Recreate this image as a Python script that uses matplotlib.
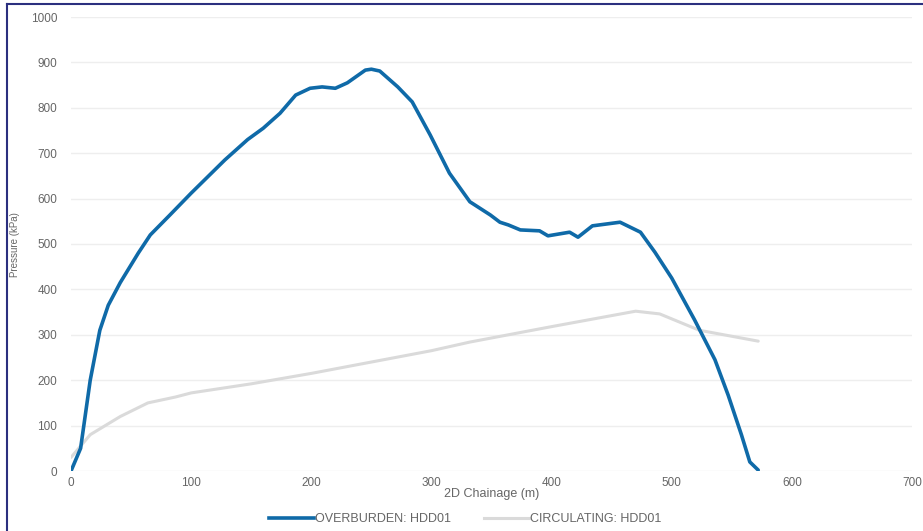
import matplotlib.pyplot as plt
from matplotlib.lines import Line2D

# Overburden pressure
over_x = [0, 8, 16, 24, 31, 41, 56, 66, 82, 100, 128, 147, 160, 174, 187, 199, 209,
          220, 230, 245, 250, 257, 272, 284, 299, 315, 332, 349, 357, 364, 374, 390,
          397, 415, 422, 434, 457, 474, 486, 500, 519, 536, 547, 558, 565, 572]
over_y = [0, 50, 200, 310, 365, 415, 480, 520, 563, 612, 685, 730, 755, 788, 828, 843, 846,
          843, 855, 883, 885, 881, 846, 813, 740, 656, 593, 564, 548, 542, 531, 529,
          518, 526, 515, 540, 548, 526, 482, 425, 333, 245, 167, 80, 20, 2]

# Circulating pressure
circ_x = [0, 16, 41, 64, 87, 100, 150, 200, 250, 300, 332, 400, 470, 490, 523, 572]
circ_y = [30, 80, 120, 150, 163, 172, 192, 215, 240, 265, 284, 318, 352, 346, 310, 286]

x_ticks = [0, 100, 200, 300, 400, 500, 600, 700]
y_ticks = [0, 100, 200, 300, 400, 500, 600, 700, 800, 900, 1000]

plt.rcParams["font.family"] = ["Liberation Sans", "DejaVu Sans"]

COLOR_OVER = "#0f6aa8"
COLOR_CIRC = "#dadada"
TEXT = "#666666"

fig = plt.figure(figsize=(9.23, 5.31), dpi=100)
ax = fig.add_axes([71 / 923, 60 / 531, 841 / 923, 454 / 531])

ax.plot(circ_x, circ_y, color=COLOR_CIRC, linewidth=2.2, solid_capstyle="round")
ax.plot(over_x, over_y, color=COLOR_OVER, linewidth=2.6, solid_capstyle="round",
        solid_joinstyle="round")

ax.set_xlim(0, 700)
ax.set_ylim(0, 1000)
ax.set_xticks(x_ticks)
ax.set_yticks(y_ticks)
ax.tick_params(length=0, labelsize=8.5, labelcolor=TEXT, pad=4)
ax.tick_params(axis="y", pad=10)
for s in ax.spines.values():
    s.set_visible(False)
ax.set_axisbelow(True)
ax.grid(axis="y", color="#eeeeee", linewidth=1)
ax.grid(axis="x", visible=False)

ax.set_xlabel("2D Chainage (m)", fontsize=9, color=TEXT)
ax.xaxis.set_label_coords(0.5, -17 / 454)
fig.text(15 / 923, 1 - 245 / 531, "Pressure (kPa)", rotation=90, fontsize=7,
         color=TEXT, ha="center", va="center")

handles = [Line2D([], [], color=COLOR_OVER, linewidth=2.6),
           Line2D([], [], color=COLOR_CIRC, linewidth=2.2)]
fig.legend(handles, ["OVERBURDEN: HDD01", "CIRCULATING: HDD01"],
           loc="center", bbox_to_anchor=(465 / 923, 1 - 519 / 531), ncol=2,
           frameon=False, fontsize=9, labelcolor=TEXT, handlelength=3.6,
           handletextpad=0.1, columnspacing=2.6)

# dark frame around the figure (left and top edges visible)
fig.add_artist(Line2D([7 / 923, 7 / 923], [0, 1 - 4 / 531], color="#2b2f7f", linewidth=1.5))
fig.add_artist(Line2D([7 / 923, 1], [1 - 4 / 531, 1 - 4 / 531], color="#2b2f7f", linewidth=1.5))

fig.savefig("out.png", dpi=100)
